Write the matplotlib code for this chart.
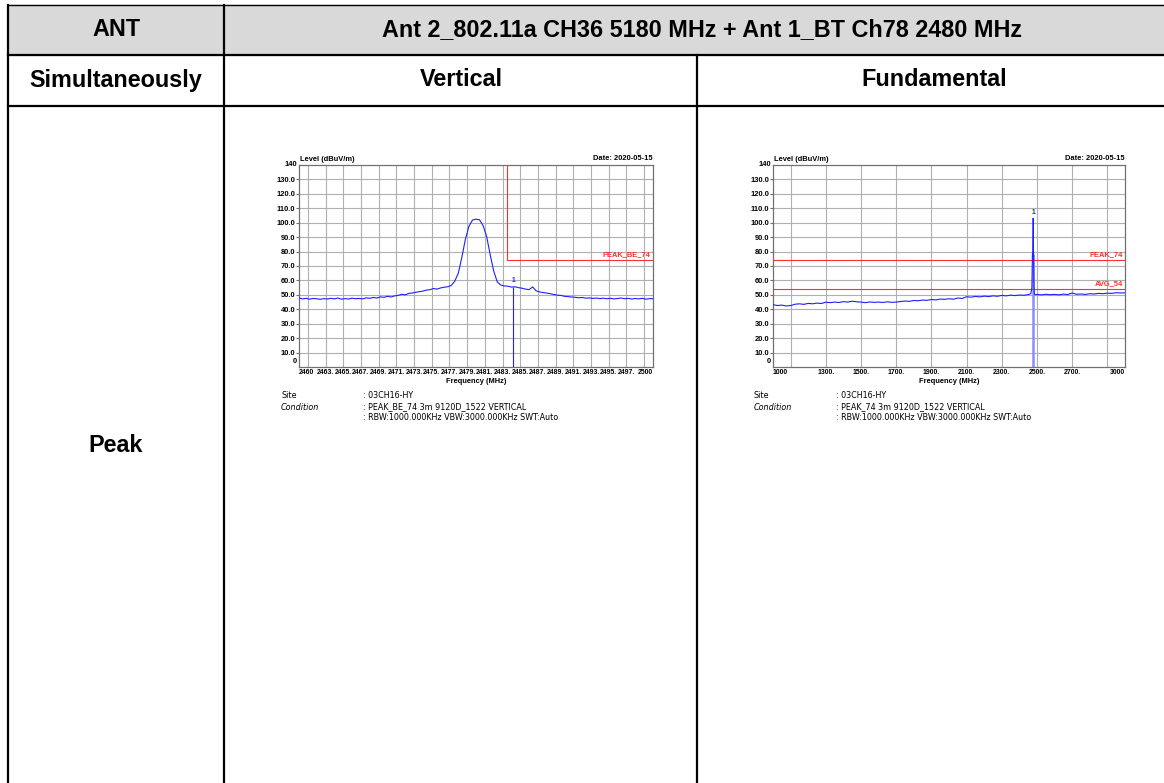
import matplotlib
matplotlib.use("Agg")
import matplotlib.pyplot as plt

# ---------------- data ----------------
header_top = "Ant 2_802.11a CH36 5180 MHz + Ant 1_BT Ch78 2480 MHz"
row_labels = ["ANT", "Simultaneously", "Peak"]
col_titles = ["Vertical", "Fundamental"]

# left plot: band-edge 2460-2500 MHz
left_freq = [2460.0, 2460.4, 2460.8, 2461.2, 2461.6, 2462.0, 2462.4, 2462.8, 2463.2, 2463.6,
             2464.0, 2464.4, 2464.8, 2465.2, 2465.6, 2466.0, 2466.4, 2466.8, 2467.2, 2467.6,
             2468.0, 2468.4, 2468.8, 2469.2, 2469.6, 2470.0, 2470.4, 2470.8, 2471.2, 2471.6,
             2472.0, 2472.4, 2472.8, 2473.2, 2473.6, 2474.0, 2474.4, 2474.8, 2475.2, 2475.6,
             2476.0, 2476.4, 2476.8, 2477.2, 2477.6, 2478.0, 2478.4, 2478.8, 2479.2, 2479.6,
             2480.0, 2480.4, 2480.8, 2481.2, 2481.6, 2482.0, 2482.4, 2482.8, 2483.2, 2483.6,
             2484.0, 2484.4, 2484.8, 2485.2, 2485.6, 2486.0, 2486.4, 2486.8, 2487.2, 2487.6,
             2488.0, 2488.4, 2488.8, 2489.2, 2489.6, 2490.0, 2490.4, 2490.8, 2491.2, 2491.6,
             2492.0, 2492.4, 2492.8, 2493.2, 2493.6, 2494.0, 2494.4, 2494.8, 2495.2, 2495.6,
             2496.0, 2496.4, 2496.8, 2497.2, 2497.6, 2498.0, 2498.4, 2498.8, 2499.2, 2499.6,
             2500.0]
left_level = [47.8, 47.2, 47.6, 47.0, 47.5, 47.3, 46.9, 47.4, 47.1, 47.6,
              47.2, 47.8, 47.0, 47.4, 47.1, 47.7, 47.3, 47.5, 47.2, 47.9,
              47.6, 48.2, 47.8, 48.6, 48.3, 49.0, 48.5, 49.3, 49.6, 50.4,
              50.0, 51.0, 51.3, 51.8, 52.2, 52.6, 53.3, 53.6, 54.4, 54.0,
              54.8, 55.3, 55.6, 56.5, 59.5, 65.0, 76.0, 88.5, 97.5, 101.8,
              102.5, 102.0, 98.0, 90.5, 78.0, 66.5, 59.0, 56.8, 56.2, 56.0,
              55.4, 55.6, 55.0, 54.6, 54.0, 53.6, 55.5, 52.8, 52.0, 51.6,
              51.2, 50.8, 50.2, 49.8, 49.6, 49.0, 48.8, 48.5, 48.3, 48.0,
              48.2, 47.7, 47.9, 47.5, 47.8, 47.4, 47.7, 47.3, 47.6, 47.2,
              47.5, 47.8, 47.3, 47.6, 47.1, 47.5, 47.2, 47.6, 47.0, 47.4,
              47.3]
left_xticks = [2460, 2463, 2465, 2467, 2469, 2471, 2473, 2475, 2477, 2479, 2481, 2483,
               2485, 2487, 2489, 2491, 2493, 2495, 2497, 2500]
left_xticklabels = ["2460", "2463.", "2465.", "2467.", "2469.", "2471.", "2473.", "2475.",
                    "2477.", "2479.", "2481.", "2483.", "2485.", "2487.", "2489.", "2491.",
                    "2493.", "2495.", "2497.", "2500"]
left_vgrid = [2461, 2463, 2465, 2467, 2469, 2471, 2473, 2475, 2477, 2479, 2481, 2483,
              2485, 2487, 2489, 2491, 2493, 2495, 2497, 2499]
left_limit_freq = 2483.5
left_limit_level = 74
left_limit_label = "PEAK_BE_74"
left_marker = (2484.2, 55.5)

# right plot: 1000-3000 MHz
right_freq = [1000, 1025, 1050, 1075, 1100, 1125, 1150, 1175, 1200, 1225, 1250, 1275,
              1300, 1325, 1350, 1375, 1400, 1425, 1450, 1475, 1500, 1525, 1550, 1575,
              1600, 1625, 1650, 1675, 1700, 1725, 1750, 1775, 1800, 1825, 1850, 1875,
              1900, 1925, 1950, 1975, 2000, 2025, 2050, 2075, 2100, 2125, 2150, 2175,
              2200, 2225, 2250, 2275, 2300, 2325, 2350, 2375, 2400, 2425, 2450, 2465,
              2471, 2474, 2476, 2478, 2479, 2480, 2481, 2482, 2484, 2486, 2490, 2500,
              2525, 2550, 2575, 2600, 2625, 2650, 2675, 2700, 2725, 2750, 2775, 2800,
              2825, 2850, 2875, 2900, 2925, 2950, 2975, 3000]
right_level = [43.2, 42.6, 42.9, 42.3, 42.6, 43.5, 43.8, 43.4, 44.1, 43.8, 44.3, 44.0,
               44.9, 44.6, 45.0, 44.7, 45.3, 45.0, 45.6, 45.2, 45.0, 44.6, 45.1, 44.8,
               45.0, 44.7, 45.2, 44.8, 45.0, 45.4, 45.7, 45.5, 46.1, 45.9, 46.4, 46.2,
               46.8, 46.5, 47.1, 46.9, 47.3, 47.0, 47.8, 47.5, 48.7, 48.4, 48.9, 48.6,
               49.1, 48.8, 49.3, 49.0, 49.6, 49.3, 49.8, 49.5, 49.9, 49.7, 50.2, 50.8,
               55.0, 78.5, 77.0, 103.0, 101.0, 80.0, 76.5, 60.0, 52.0, 50.5, 50.0, 50.3,
               50.0, 50.4, 50.1, 50.3, 50.0, 50.5, 50.2, 51.3, 50.4, 50.6, 50.3, 50.8,
               50.6, 51.0, 50.8, 51.2, 51.0, 51.5, 51.3, 51.4]
right_xticks = [1000, 1300, 1500, 1700, 1900, 2100, 2300, 2500, 2700, 3000]
right_xticklabels = ["1000", "1300.", "1500.", "1700.", "1900.", "2100.", "2300.", "2500.",
                     "2700.", "3000"]
right_vgrid = [1100, 1300, 1500, 1700, 1900, 2100, 2300, 2500, 2700, 2900]
right_limits = [74, 54]
right_limit_labels = ["PEAK_74", "AVG_54"]
right_marker = (2476, 78)

y_ticks = [10, 20, 30, 40, 50, 60, 70, 80, 90, 100, 110, 120, 130]
date_text = "Date: 2020-05-15"
ylabel_text = "Level (dBuV/m)"
xlabel_text = "Frequency (MHz)"
site_value = ": 03CH16-HY"
left_condition = ": PEAK_BE_74 3m 9120D_1522 VERTICAL"
right_condition = ": PEAK_74 3m 9120D_1522 VERTICAL"
rbw_text = ": RBW:1000.000KHz VBW:3000.000KHz SWT:Auto"

# ---------------- figure ----------------
W, H = 1164, 783
fig = plt.figure(figsize=(W / 100, H / 100), dpi=100)
fig.patch.set_facecolor("white")

bg = fig.add_axes([0, 0, 1, 1])
bg.set_xlim(0, W)
bg.set_ylim(H, 0)
bg.axis("off")

TFONT = "Liberation Sans"
# header fill
bg.fill_between([8, W + 20], 5, 54.5, color="#d9d9d9", zorder=0)
# borders
bg.plot([8, W + 20], [5, 5], color="black", lw=1.0)
bg.plot([8, W + 20], [54.5, 54.5], color="black", lw=1.6)
bg.plot([8, W + 20], [105.5, 105.5], color="black", lw=1.6)
bg.plot([8, 8], [5, H + 5], color="black", lw=1.6)
bg.plot([224, 224], [5, H + 5], color="black", lw=1.6)
bg.plot([697, 697], [54.5, H + 5], color="black", lw=1.6)

tkw = dict(family=TFONT, fontweight="bold", fontsize=16.8, ha="center", va="center", color="black")
bg.text(116, 30, row_labels[0], **tkw)
bg.text(702, 30, header_top, **tkw)
bg.text(116, 80, row_labels[1], **tkw)
bg.text(461, 80, col_titles[0], **tkw)
bg.text(934, 80, col_titles[1], **tkw)
bg.text(116, 446, row_labels[2], **tkw)


def px_axes(x0, y0, x1, y1):
    return fig.add_axes([x0 / W, (H - y1) / H, (x1 - x0) / W, (y1 - y0) / H])


SF = "Liberation Sans"
BLUE = "#1f1fff"
RED = "#ff3030"
FS = 5.4


def setup_spec(ax, xmin, xmax, vgrid, xticks, xticklabels):
    ax.set_xlim(xmin, xmax)
    ax.set_ylim(0, 140)
    for y in y_ticks:
        ax.axhline(y, color="#b0b0b0", lw=0.8, zorder=1)
    for x in vgrid:
        ax.axvline(x, color="#b0b0b0", lw=0.8, zorder=1)
    for s in ax.spines.values():
        s.set_color("#707070")
        s.set_linewidth(0.9)
    ax.set_yticks(y_ticks)
    ax.set_yticklabels([f"{v:.1f}" for v in y_ticks], fontsize=FS, fontweight="bold", family=SF)
    ax.set_xticks(xticks)
    ax.set_xticklabels(xticklabels, fontsize=4.95, fontweight="bold", family=SF)
    ax.tick_params(axis="y", length=2, pad=0.5, color="#707070")
    ax.tick_params(axis="x", length=0, pad=1.4)
    xl = ax.get_xticklabels()
    xl[0].set_horizontalalignment("left")
    xl[-1].set_horizontalalignment("right")
    ax.text(-0.004, 1.0, "140", transform=ax.transAxes, ha="right", va="center",
            fontsize=FS, fontweight="bold", family=SF)
    ax.text(-0.006, 0.01, "0", transform=ax.transAxes, ha="right", va="bottom",
            fontsize=FS, fontweight="bold", family=SF)
    ax.text(0.002, 1.008, ylabel_text, transform=ax.transAxes, ha="left", va="bottom",
            fontsize=FS, fontweight="bold", family=SF)
    ax.text(1.0, 1.015, date_text, transform=ax.transAxes, ha="right", va="bottom",
            fontsize=FS, fontweight="bold", family=SF)
    ax.text(0.5, -0.07, xlabel_text, transform=ax.transAxes, ha="center", va="center",
            fontsize=FS, fontweight="bold", family=SF)


# left spectrum
axL = px_axes(299, 165, 653, 367)
setup_spec(axL, 2460, 2500, left_vgrid, left_xticks, left_xticklabels)
axL.plot(left_freq, left_level, color=BLUE, lw=0.8, zorder=3)
axL.plot([left_limit_freq, left_limit_freq, 2500], [140, left_limit_level, left_limit_level],
         color=RED, lw=0.8, zorder=2)
axL.text(2499.7, left_limit_level + 1.2, left_limit_label, color=RED, ha="right", va="bottom",
         fontsize=FS, fontweight="bold", family=SF)
axL.vlines(left_marker[0], 0, left_marker[1], color=BLUE, lw=0.8, zorder=3)
axL.text(left_marker[0], left_marker[1] + 2, "1", color=BLUE, ha="center", va="bottom",
         fontsize=4.8, fontweight="bold", family=SF)

# right spectrum
axR = px_axes(773, 165, 1125, 367)
setup_spec(axR, 1000, 3000, right_vgrid, right_xticks, right_xticklabels)
axR.vlines(right_marker[0], 0, right_marker[1], color="#8c8cff", lw=1.8, zorder=2)
axR.plot(right_freq, right_level, color=BLUE, lw=0.8, zorder=3)
for lv, lab in zip(right_limits, right_limit_labels):
    axR.axhline(lv, color=RED, lw=0.8, zorder=2)
    axR.text(2990, lv + 1.2, lab, color=RED, ha="right", va="bottom",
             fontsize=FS, fontweight="bold", family=SF)
axR.text(2480, 104.5, "1", color=BLUE, ha="center", va="bottom",
         fontsize=4.8, fontweight="bold", family=SF)

# info text
IF = "DejaVu Sans"
IFS = 5.8
for (xl, xv, cond) in [(281, 363, left_condition), (754, 836, right_condition)]:
    bg.text(xl, 396, "Site", fontsize=IFS, family=IF, va="center", ha="left")
    bg.text(xl, 407, "Condition", fontsize=IFS, family=IF, va="center", ha="left", style="italic")
    bg.text(xv, 396, site_value, fontsize=IFS, family=IF, va="center", ha="left")
    bg.text(xv, 407, cond, fontsize=IFS, family=IF, va="center", ha="left")
    bg.text(xv, 418, rbw_text, fontsize=IFS, family=IF, va="center", ha="left")

fig.savefig("out.png", dpi=100)
